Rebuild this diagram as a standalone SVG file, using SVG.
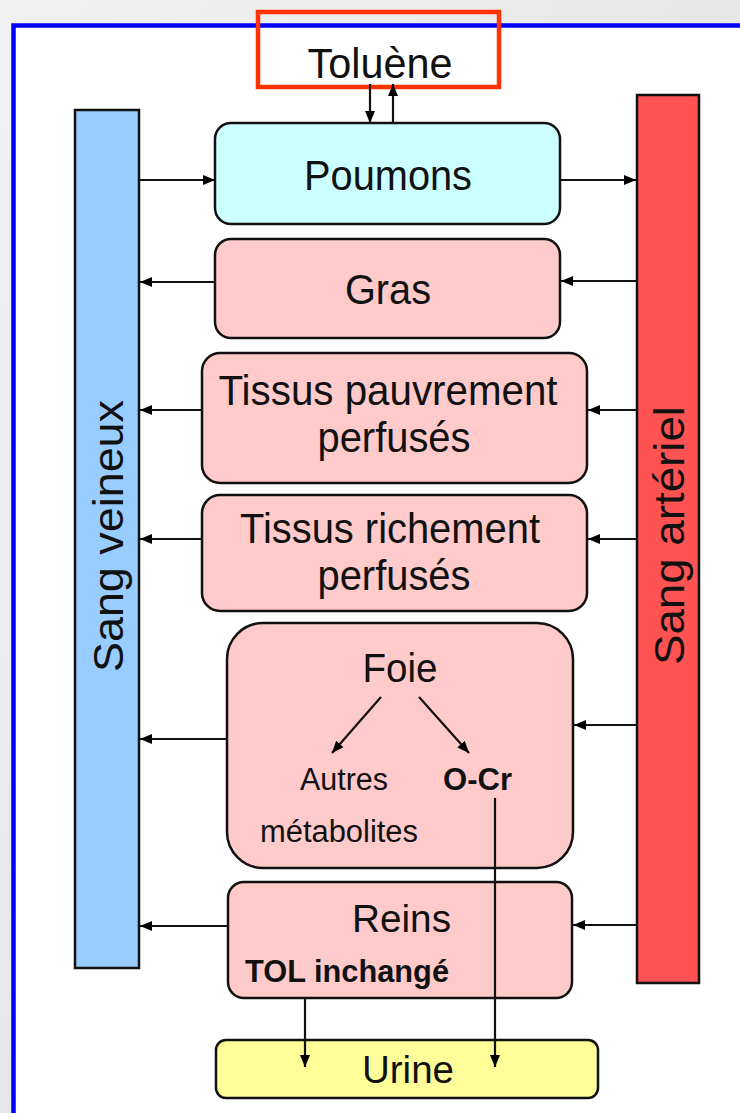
<svg xmlns="http://www.w3.org/2000/svg" width="740" height="1113" viewBox="0 0 740 1113">
<defs>
<linearGradient id="bg" x1="0" y1="0" x2="1" y2="1">
<stop offset="0" stop-color="#f2f2f2"/><stop offset="1" stop-color="#dcdcdc"/>
</linearGradient>
<marker id="ah" viewBox="0 0 12 10" refX="12" refY="5" markerWidth="12" markerHeight="10" markerUnits="userSpaceOnUse" orient="auto">
<path d="M0,0 L12,5 L0,10 z" fill="#000"/>
</marker>
</defs>
<style>
.t{font-family:"Liberation Sans",Arial,sans-serif;fill:#111;}
.box{stroke:#111;stroke-width:2.5;}
.org{fill:#ffcaca;}
.c{stroke:#111;stroke-width:2.2;fill:none;marker-end:url(#ah);}
</style>
<rect x="0" y="0" width="740" height="1113" fill="url(#bg)"/>
<rect x="13.5" y="25.5" width="740" height="1100" fill="#fff" stroke="#0000ff" stroke-width="4.5"/>

<g id="toluene">
<rect x="258" y="12" width="241" height="75" fill="none" stroke="#ff3300" stroke-width="4.5"/>
<text class="t" x="380" y="78" font-size="42" text-anchor="middle" textLength="145" lengthAdjust="spacingAndGlyphs">Toluène</text>
</g>

<g id="sang-veineux">
<rect class="box" x="75" y="110" width="64" height="858" fill="#99ccff" stroke-width="3"/>
<text class="t" transform="translate(123,672) rotate(-90)" font-size="42" textLength="272" lengthAdjust="spacingAndGlyphs">Sang veineux</text>
</g>

<g id="sang-arteriel">
<rect class="box" x="637" y="95" width="62" height="888" fill="#ff5252" stroke-width="3"/>
<text class="t" transform="translate(684,665) rotate(-90)" font-size="42" textLength="259" lengthAdjust="spacingAndGlyphs">Sang artériel</text>
</g>

<g id="poumons">
<rect class="box" x="215" y="123" width="345" height="101" rx="16" fill="#ccffff"/>
<text class="t" x="388" y="190" font-size="42" text-anchor="middle" textLength="168" lengthAdjust="spacingAndGlyphs">Poumons</text>
</g>

<g id="gras">
<rect class="box org" x="215" y="239" width="345" height="99" rx="16"/>
<text class="t" x="388" y="304" font-size="42" text-anchor="middle" textLength="86" lengthAdjust="spacingAndGlyphs">Gras</text>
</g>

<g id="tissus-pauvrement">
<rect class="box org" x="202" y="353" width="385" height="130" rx="18"/>
<text class="t" x="388" y="405" font-size="42" text-anchor="middle" textLength="339" lengthAdjust="spacingAndGlyphs">Tissus pauvrement</text>
<text class="t" x="394" y="452" font-size="42" text-anchor="middle" textLength="153" lengthAdjust="spacingAndGlyphs">perfusés</text>
</g>

<g id="tissus-richement">
<rect class="box org" x="202" y="495" width="385" height="116" rx="18"/>
<text class="t" x="390" y="543" font-size="42" text-anchor="middle" textLength="300" lengthAdjust="spacingAndGlyphs">Tissus richement</text>
<text class="t" x="394" y="590" font-size="42" text-anchor="middle" textLength="153" lengthAdjust="spacingAndGlyphs">perfusés</text>
</g>

<g id="foie">
<rect class="box org" x="227" y="623" width="346" height="245" rx="36"/>
<text class="t" x="400" y="682" font-size="40" text-anchor="middle" textLength="75" lengthAdjust="spacingAndGlyphs">Foie</text>
<text class="t" x="300" y="790" font-size="31" textLength="88" lengthAdjust="spacingAndGlyphs">Autres</text>
<text class="t" x="443" y="790" font-size="31" font-weight="bold" textLength="69" lengthAdjust="spacingAndGlyphs">O-Cr</text>
<text class="t" x="260" y="842" font-size="31" textLength="158" lengthAdjust="spacingAndGlyphs">métabolites</text>
</g>

<g id="reins">
<rect class="box org" x="228" y="882" width="344" height="116" rx="16"/>
<text class="t" x="352" y="932" font-size="39" textLength="99" lengthAdjust="spacingAndGlyphs">Reins</text>
<text class="t" x="245" y="982" font-size="31" font-weight="bold" textLength="204" lengthAdjust="spacingAndGlyphs">TOL inchangé</text>
</g>

<g id="urine">
<rect class="box" x="216" y="1040" width="382" height="58" rx="10" fill="#ffff99"/>
<text class="t" x="408" y="1083" font-size="39" text-anchor="middle" textLength="92" lengthAdjust="spacingAndGlyphs">Urine</text>
</g>

<g id="connectors">
<line class="c" x1="370" y1="84" x2="370" y2="123"/>
<line class="c" x1="393" y1="123" x2="393" y2="84"/>
<line class="c" x1="140" y1="180" x2="215" y2="180"/>
<line class="c" x1="560" y1="180" x2="636" y2="180"/>
<line class="c" x1="215" y1="282" x2="140" y2="282"/>
<line class="c" x1="636" y1="281" x2="561" y2="281"/>
<line class="c" x1="202" y1="410" x2="140" y2="410"/>
<line class="c" x1="636" y1="410" x2="588" y2="410"/>
<line class="c" x1="202" y1="539" x2="140" y2="539"/>
<line class="c" x1="636" y1="539" x2="588" y2="539"/>
<line class="c" x1="227" y1="739" x2="140" y2="739"/>
<line class="c" x1="636" y1="725" x2="574" y2="725"/>
<line class="c" x1="228" y1="926" x2="140" y2="926"/>
<line class="c" x1="636" y1="925" x2="573" y2="925"/>
<line class="c" x1="381" y1="697" x2="332" y2="753"/>
<line class="c" x1="419" y1="697" x2="469" y2="753"/>
<line class="c" x1="495" y1="798" x2="495" y2="1067"/>
<line class="c" x1="305" y1="998" x2="305" y2="1067"/>
</g>
</svg>
